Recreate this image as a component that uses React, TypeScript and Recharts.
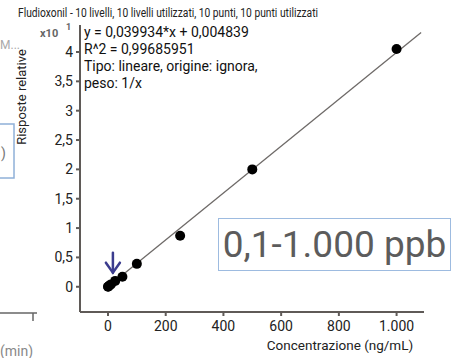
import { ScatterChart, Scatter, XAxis, YAxis, ReferenceLine, ReferenceDot } from 'recharts';

// concentrazione (ng/mL) e risposta relativa (x10^1)
const concentrations = [0.1, 1, 5, 10, 25, 50, 100, 250, 500, 1000];
const responses = [0.0, 0.004, 0.02, 0.04, 0.1, 0.17, 0.39, 0.87, 2.0, 4.05];
const xTicks = [0, 200, 400, 600, 800, 1000];
const yTicks = [0, 0.5, 1, 1.5, 2, 2.5, 3, 3.5, 4];
const slope = 0.039934;
const intercept = 0.004839;
const fitRange = [0, 1085];
const equationLines = [
  'y = 0,039934*x + 0,004839',
  'R^2 = 0,99685951',
  'Tipo: lineare, origine: ignora,',
  'peso: 1/x',
];

const points = concentrations.map((x, i) => ({ x, y: responses[i] }));
const fitSegment = fitRange.map((x) => ({ x, y: (slope * x + intercept) / 10 }));

const fmtX = (v: number) => (v >= 1000 ? v.toLocaleString('it-IT') : String(v));
const fmtY = (v: number) => String(v).replace('.', ',');

const FONT = 'Roboto, "Noto Sans", sans-serif';

function Dot(props: any) {
  return <circle cx={props.cx} cy={props.cy} r={5} fill="#000" />;
}

function Arrow(props: any) {
  const { cx, cy } = props;
  return (
    <g stroke="#3b3c8e" strokeWidth={2.5} fill="none" strokeLinecap="round">
      <line x1={cx} y1={cy - 20} x2={cx} y2={cy} />
      <polyline points={`${cx - 7},${cy - 10} ${cx},${cy} ${cx + 7},${cy - 10}`} />
    </g>
  );
}

export default function App() {
  return (
    <div style={{ position: 'absolute', left: 0, top: 0, width: 454, height: 358, background: '#fff', fontFamily: FONT, overflow: 'hidden' }}>
      <ScatterChart width={454} height={358} margin={{ top: 25, right: 30, bottom: 0, left: 0 }}>
        <XAxis
          type="number"
          dataKey="x"
          domain={[-97, 1095]}
          ticks={xTicks}
          tickFormatter={fmtX}
          allowDataOverflow
          height={46}
          stroke="#5f5a57"
          strokeWidth={2}
          tickSize={4}
          tickMargin={5}
          tick={{ fill: '#222', fontSize: 14, fontFamily: FONT }}
        />
        <YAxis
          type="number"
          dataKey="y"
          domain={[-0.43, 4.46]}
          ticks={yTicks}
          tickFormatter={fmtY}
          allowDataOverflow
          width={80}
          stroke="#5f5a57"
          strokeWidth={2}
          tickSize={4}
          tickMargin={3}
          tick={{ fill: '#222', fontSize: 14, fontFamily: FONT }}
        />
        <ReferenceLine segment={fitSegment} stroke="#6e6a68" strokeWidth={1.3} ifOverflow="visible" />
        <Scatter data={points} shape={<Dot />} isAnimationActive={false} />
        <ReferenceDot x={17} y={0.24} shape={<Arrow />} ifOverflow="visible" />
      </ScatterChart>

      <svg width={454} height={358} style={{ position: 'absolute', left: 0, top: 0, pointerEvents: 'none' }} fontFamily={FONT}>
        <text x={18} y={17} fontSize={12} fill="#222" textLength={300} lengthAdjust="spacingAndGlyphs">
          Fludioxonil - 10 livelli, 10 livelli utilizzati, 10 punti, 10 punti utilizzati
        </text>
        <text x={40} y={37} fontSize={11} fontWeight="bold" fill="#666">x10</text>
        <text x={66} y={30} fontSize={9} fontWeight="bold" fill="#666">1</text>
        {equationLines.map((t, i) => (
          <text key={t} x={84} y={37 + i * 17} fontSize={14} fill="#111">{t}</text>
        ))}
        <text x={23} y={97} fontSize={13} fill="#222" textAnchor="middle" transform="rotate(-90 23 97)" dominantBaseline="middle">
          Risposte relative
        </text>
        <text x={340} y={350} fontSize={13.5} fill="#222" textAnchor="middle">Concentrazione (ng/mL)</text>

        {/* residui del pannello a sinistra */}
        <text x={0} y={49} fontSize={12} fill="#aaa">M...</text>
        <rect x={-2} y={124} width={16} height={54} fill="none" stroke="#8fb0d8" strokeWidth={1.5} />
        <text x={1} y={158} fontSize={14} fill="#777">)</text>
        <line x1={0} y1={313} x2={37} y2={313} stroke="#666" strokeWidth={1.5} />
        <line x1={33} y1={313} x2={33} y2={321} stroke="#666" strokeWidth={1.5} />
        <text x={0} y={356} fontSize={14} fill="#888">(min)</text>
      </svg>

      <div
        style={{
          position: 'absolute',
          left: 218,
          top: 218,
          width: 231,
          height: 51,
          border: '1.5px solid #9dbbe0',
          color: '#5c5c5c',
          fontSize: 37,
          lineHeight: '51px',
          textAlign: 'center',
          background: '#fff',
        }}
      >
        0,1-1.000 ppb
      </div>
    </div>
  );
}
